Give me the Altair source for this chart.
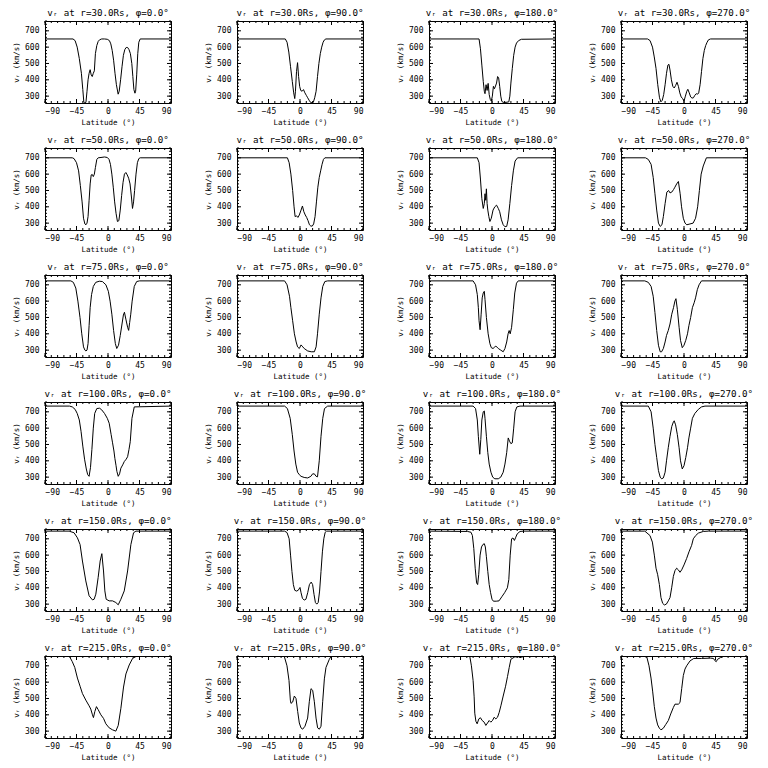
import altair as alt
import pandas as pd

# ---------------- data ----------------
lat_r30_p0 = [-90, -50, -47, -44, -41, -38, -36, -34.5, -33, -31.5, -30, -28.5, -27, -25.5, -24, -22.5, -21, -19.5, -18, -16, -14, -12, -9, -5, -1, 2, 4, 6, 8, 10, 12, 14.5, 16, 18, 20, 22, 24, 26, 28, 30, 32, 34, 35.5, 37, 38.5, 39.5, 41, 42.5, 44, 46, 90]
v_r30_p0 = [650, 650, 640, 600, 530, 440, 340, 262, 258, 262, 330, 400, 440, 462, 430, 420, 440, 455, 560, 610, 635, 645, 650, 650, 648, 640, 620, 580, 520, 440, 370, 312, 330, 400, 480, 550, 585, 598, 598, 585, 560, 500, 420, 340, 318, 330, 430, 560, 630, 650, 650]

lat_r30_p90 = [-90, -21, -18.5, -16, -13.5, -11, -9, -7.5, -6.5, -5, -3.5, -2, -0.5, 1, 3, 5, 7, 9, 11, 13, 15, 17, 19, 21, 23, 25, 27, 29, 31, 33, 35, 37, 90]
v_r30_p90 = [650, 650, 630, 570, 480, 390, 320, 285, 330, 450, 505, 420, 360, 335, 330, 340, 320, 305, 290, 275, 262, 260, 262, 290, 330, 420, 500, 560, 600, 630, 645, 650, 650]

lat_r30_p180 = [-90, -18.5, -16.5, -14.5, -12.5, -11, -10, -8.5, -7, -5.5, -4, -2.5, -1, 0.5, 2, 3.5, 5, 6.5, 8, 9.5, 11, 12.5, 14, 16, 20, 24, 25.5, 27, 29, 31, 33, 35, 38, 42, 90]
v_r30_p180 = [650, 650, 590, 490, 390, 330, 315, 370, 335, 378, 310, 280, 270, 300, 360, 345, 362, 380, 420, 412, 360, 300, 268, 262, 262, 265, 300, 380, 470, 550, 600, 625, 640, 648, 650]

lat_r30_p270 = [-90, -52, -48.5, -45, -42.5, -40, -37.5, -35, -33, -31, -29, -27, -25, -23, -21.5, -20, -18, -16, -14, -12, -10, -8, -6, -4, -2, 0, 2, 4, 5.5, 7.5, 9.5, 11.5, 13.5, 15.5, 17.5, 19.5, 21, 23, 25, 27, 29, 31, 33, 35, 38, 90]
v_r30_p270 = [650, 650, 640, 600, 540, 470, 370, 290, 265, 275, 310, 370, 440, 490, 495, 460, 400, 360, 350, 365, 385, 360, 320, 295, 285, 270, 300, 330, 342, 320, 295, 288, 290, 305, 315, 312, 320, 370, 450, 530, 580, 610, 630, 645, 650, 650]

lat_r50_p0 = [-90, -51, -48.5, -45, -42, -39.5, -37, -35, -33, -31.5, -30, -28.5, -27, -25.5, -24, -22.5, -21, -19.5, -18, -16, -14, -10, -5, -1, 1.5, 3.5, 5.5, 7.5, 9.5, 11.5, 13.5, 15.5, 17.5, 19.5, 21.5, 23.5, 25.5, 27.5, 29.5, 31.5, 33.5, 35, 36.5, 38, 40, 42, 44, 46, 90]
v_r50_p0 = [700, 700, 695, 670, 620, 530, 430, 330, 295, 290, 300, 340, 440, 540, 595, 598, 585, 600, 640, 690, 700, 702, 705, 702, 690, 660, 600, 520, 430, 360, 310, 315, 380, 470, 550, 600, 610, 595, 575, 540, 460, 390, 430, 500, 600, 670, 695, 700, 700]

lat_r50_p90 = [-90, -18, -15.5, -13, -10.5, -8.5, -7, -5, -3, -1, 1.5, 3.5, 5.5, 7.5, 9.5, 11.5, 13.5, 15.5, 17.5, 19.5, 21.5, 23.5, 25.5, 27.5, 29.5, 31.5, 33.5, 35.5, 90]
v_r50_p90 = [700, 700, 670, 600, 500, 400, 340, 345, 335, 350, 380, 405, 370, 350, 335, 315, 290, 282, 282, 295, 340, 430, 520, 580, 620, 660, 690, 700, 700]

lat_r50_p180 = [-90, -21, -18.5, -16.5, -14.5, -12.5, -11, -10, -9, -8, -7, -6, -4.5, -3, -1, 1.5, 4, 6.5, 9, 11, 13.5, 16, 18.5, 21, 23, 25.5, 28, 30.5, 33, 36.5, 90]
v_r50_p180 = [700, 700, 670, 570, 450, 390, 420, 480, 440, 510, 420, 380, 340, 310, 330, 380, 400, 410, 390, 370, 320, 290, 278, 280, 320, 420, 530, 620, 680, 700, 700]

lat_r50_p270 = [-90, -55, -51, -47, -44, -41.5, -39, -36.5, -34, -31.5, -29.5, -27, -24.5, -22, -20, -17.5, -15, -13, -10.5, -8, -5.5, -3.5, -1, 1.5, 4, 8.5, 13, 16.5, 19.5, 22, 24.5, 27.5, 32, 90]
v_r50_p270 = [700, 700, 690, 660, 580, 480, 380, 300, 280, 290, 340, 420, 490, 500, 485, 490, 505, 520, 540, 555, 480, 400, 330, 300, 290, 295, 300, 330, 400, 500, 600, 650, 700, 700]

lat_r75_p0 = [-90, -53, -49.5, -46, -43, -40, -37.5, -35, -33, -31.5, -30, -28.5, -27, -25.5, -23.5, -21, -17.5, -12.5, -8, -3, 0.5, 3, 5.5, 8, 10.5, 12.5, 15, 17.5, 20, 22, 23.5, 25.5, 28, 29.5, 31, 32.5, 34.5, 37.5, 41, 45, 90]
v_r75_p0 = [724, 724, 715, 680, 600, 500, 400, 320, 300, 295, 300, 340, 450, 560, 640, 690, 715, 722, 720, 700, 660, 600, 520, 420, 340, 310, 330, 390, 460, 515, 532, 490, 440, 421, 470, 520, 600, 690, 720, 724, 724]

lat_r75_p90 = [-90, -22, -18.5, -15, -13, -10.5, -8, -5.5, -3.5, -1, 1.5, 4, 6, 11, 16, 20.5, 23, 25, 27.5, 30, 32.5, 35.5, 39.5, 90]
v_r75_p90 = [724, 724, 700, 630, 560, 480, 400, 350, 320, 310, 332, 320, 310, 295, 290, 290, 320, 400, 520, 620, 690, 720, 724, 724]

lat_r75_p180 = [-90, -27, -23.5, -21, -19.5, -18.5, -17, -15.5, -14, -12.5, -11, -10, -8, -5.5, -3, -1, 1.5, 4, 5.5, 9, 12.5, 16, 18.5, 21, 23, 24.5, 26, 28, 30.5, 32.5, 35, 37.5, 90]
v_r75_p180 = [724, 724, 700, 640, 560, 480, 425, 520, 620, 650, 660, 610, 500, 400, 340, 315, 310, 320, 325, 310, 300, 290, 310, 350, 400, 420, 400, 440, 550, 650, 710, 724, 724]

lat_r75_p270 = [-90, -56, -51, -47, -44, -41.5, -39, -36.5, -34, -32, -29.5, -27, -25, -22.5, -20, -17.5, -15, -13, -11.5, -9.5, -7, -5, -2.5, 0, 2.5, 5, 7, 9.5, 12, 14.5, 16.5, 19, 21.5, 25, 90]
v_r75_p270 = [724, 724, 715, 690, 630, 530, 420, 330, 290, 290, 310, 350, 390, 420, 460, 520, 560, 600, 615, 550, 440, 360, 315, 330, 360, 400, 450, 500, 560, 590, 620, 670, 700, 724, 724]

lat_r100_p0 = [-90, -55, -51, -47, -44, -41, -38.5, -36, -33.5, -31, -29, -27, -25, -23, -21, -19, -16, -12, -9, -5, -1, 1.7, 4.5, 6.5, 8.5, 9.8, 11.5, 12.7, 14.6, 16.5, 18.4, 21, 23.2, 26, 28, 30, 31.8, 34.2, 37.5, 90]
v_r100_p0 = [735, 735, 730, 715, 690, 650, 580, 490, 410, 350, 315, 305, 360, 470, 600, 690, 720, 722, 712, 690, 660, 630, 560, 510, 460, 415, 370, 335, 305, 320, 355, 375, 395, 410, 425, 470, 517, 660, 730, 735]

lat_r100_p90 = [-90, -22, -18, -14, -11, -8.5, -6, -3.5, -1, 1.5, 6, 11, 15.5, 18, 20.5, 23, 25, 27.5, 30, 32.5, 35, 39.5, 90]
v_r100_p90 = [735, 735, 720, 660, 560, 460, 380, 330, 315, 305, 298, 295, 305, 320, 320, 305, 302, 400, 550, 660, 720, 735, 735]

lat_r100_p180 = [-90, -27, -23.5, -21, -19.5, -17.5, -16, -14.5, -12.5, -11, -10, -8, -6, -4, -1.5, 1, 4, 9, 12.5, 16, 18.5, 21, 23.2, 25, 27, 29, 31, 33, 35.5, 40, 90]
v_r100_p180 = [735, 735, 720, 650, 550, 440, 530, 650, 700, 705, 660, 550, 450, 380, 330, 300, 290, 290, 300, 330, 380, 450, 540, 520, 505, 510, 600, 700, 730, 735, 735]

lat_r100_p270 = [-90, -51, -47, -44, -41.5, -39, -36.5, -34, -32, -29.5, -27, -25, -22.5, -20, -17.5, -15, -14, -12, -9.5, -7, -5, -2.5, 0, 2.5, 5, 7, 9.5, 12, 15.5, 20.5, 25, 30, 90]
v_r100_p270 = [735, 735, 700, 600, 500, 420, 340, 300, 290, 295, 330, 400, 480, 550, 610, 640, 645, 620, 560, 480, 400, 350, 370, 420, 480, 540, 600, 660, 690, 715, 730, 735, 735]

lat_r150_p0 = [-90, -55.6, -48.5, -43.7, -39.9, -36.5, -31.7, -27, -22.2, -19.8, -17.4, -14.1, -11.2, -8.8, -6.4, -4.5, -2.6, 1.7, 6.5, 11.2, 14.6, 18.4, 23.2, 28, 32.7, 36.5, 39.9, 90]
v_r150_p0 = [747, 747, 737, 706, 665, 564, 442, 351, 326, 330, 361, 462, 564, 609, 503, 381, 330, 320, 320, 310, 296, 330, 381, 503, 665, 737, 747, 747]

lat_r150_p90 = [-90, -22, -18.5, -15.5, -13.5, -11.5, -9.5, -7.5, -5, -2.5, 0, 1.5, 3.5, 6, 8.5, 11, 13.5, 16, 18, 20, 22, 24, 26, 28, 30, 32, 34, 36, 38, 90]
v_r150_p90 = [747, 747, 738, 700, 600, 500, 420, 385, 380, 385, 402, 370, 335, 325, 330, 370, 420, 435, 420, 360, 310, 300, 310, 380, 500, 620, 700, 740, 747, 747]

lat_r150_p180 = [-90, -35, -30, -28, -26, -24, -22, -20.5, -19, -17, -15, -13, -11, -9.5, -8, -6, -4, -2, 0, 2, 6, 10, 14, 18, 22, 24, 26, 28, 30, 32, 34, 36, 40, 45, 90]
v_r150_p180 = [747, 745, 740, 720, 640, 520, 430, 420, 480, 600, 650, 665, 670, 650, 590, 500, 420, 370, 330, 318, 318, 320, 345, 370, 400, 450, 600, 700, 705, 690, 710, 730, 745, 747, 747]

lat_r150_p270 = [-90, -56, -48.6, -45.2, -42.4, -40, -37.6, -35.2, -32.9, -30.5, -28.1, -25.2, -22.4, -20, -17.6, -15.2, -12.9, -10.5, -8.1, -5.7, -3.3, 0, 3.8, 7.1, 10.9, 13.3, 16.7, 20.5, 27.6, 34.8, 90]
v_r150_p270 = [747, 747, 720, 680, 600, 520, 480, 420, 340, 305, 295, 300, 320, 340, 400, 470, 505, 520, 510, 495, 510, 540, 580, 620, 660, 700, 720, 735, 745, 747, 747]

lat_r215_p0 = [-90, -55, -51, -47.5, -43.7, -39.9, -36.5, -31.7, -27, -24.6, -22.2, -20.8, -18.8, -16.5, -14.1, -10.2, -6.4, -3.1, 1.7, 6.5, 11.2, 14.6, 18.4, 22.2, 25.6, 30.3, 35.1, 40, 90]
v_r215_p0 = [757, 757, 725, 690, 625, 575, 530, 490, 455, 435, 400, 383, 420, 450, 432, 400, 378, 345, 320, 308, 300, 335, 440, 570, 650, 705, 745, 757, 757]

lat_r215_p90 = [-90, -22.4, -18.6, -15.7, -13.8, -12.9, -10.5, -8.1, -5.7, -3.3, -1, 1.4, 3.8, 7.1, 10.9, 13.3, 15.7, 18.1, 20.5, 22.9, 25.2, 27.6, 30, 32.4, 34.8, 37.1, 41.9, 44.3, 90]
v_r215_p90 = [757, 757, 700, 610, 490, 470, 478, 515, 500, 420, 350, 320, 312, 330, 380, 480, 560, 550, 480, 380, 320, 312, 330, 480, 620, 690, 740, 757, 757]

lat_r215_p180 = [-90, -31.7, -29.4, -27, -25.5, -24.6, -23, -21.2, -18.8, -16.5, -14, -11.2, -8.8, -6.4, -4, -1.7, 0.7, 3.1, 5.5, 7.9, 10.3, 12.7, 16, 19.4, 22.2, 24.6, 27, 32.7, 38, 40, 42, 45, 90]
v_r215_p180 = [757, 757, 700, 610, 510, 410, 360, 345, 375, 382, 365, 355, 335, 350, 365, 355, 365, 385, 375, 385, 415, 455, 515, 575, 635, 690, 740, 755, 755, 750, 752, 757, 757]

lat_r215_p270 = [-90, -53.3, -50, -47.1, -44.8, -42.4, -40, -37.6, -35.2, -32.9, -29.5, -26.2, -22.4, -19, -15.2, -12.9, -8.1, -5.7, -3.3, -1, 1.4, 3.8, 8.6, 14, 25, 38, 42, 44.5, 46, 48, 52, 56, 90]
v_r215_p270 = [757, 757, 700, 625, 545, 450, 380, 338, 318, 308, 318, 340, 365, 405, 445, 465, 465, 475, 560, 640, 680, 700, 730, 745, 745, 747, 745, 730, 725, 740, 750, 757, 757]

radii = ["30.0", "50.0", "75.0", "100.0", "150.0", "215.0"]
phis = ["0.0", "90.0", "180.0", "270.0"]

x_major = [-90, -45, 0, 45, 90]
x_minor = [-90, -81, -72, -63, -54, -45, -36, -27, -18, -9, 0, 9, 18, 27, 36, 45, 54, 63, 72, 81, 90]
y_major = [300, 400, 500, 600, 700]
y_minor = [260, 280, 300, 320, 340, 360, 380, 400, 420, 440, 460, 480, 500, 520, 540, 560, 580, 600, 620, 640, 660, 680, 700, 720, 740, 760]

series = [
    (lat_r30_p0, v_r30_p0), (lat_r30_p90, v_r30_p90), (lat_r30_p180, v_r30_p180), (lat_r30_p270, v_r30_p270),
    (lat_r50_p0, v_r50_p0), (lat_r50_p90, v_r50_p90), (lat_r50_p180, v_r50_p180), (lat_r50_p270, v_r50_p270),
    (lat_r75_p0, v_r75_p0), (lat_r75_p90, v_r75_p90), (lat_r75_p180, v_r75_p180), (lat_r75_p270, v_r75_p270),
    (lat_r100_p0, v_r100_p0), (lat_r100_p90, v_r100_p90), (lat_r100_p180, v_r100_p180), (lat_r100_p270, v_r100_p270),
    (lat_r150_p0, v_r150_p0), (lat_r150_p90, v_r150_p90), (lat_r150_p180, v_r150_p180), (lat_r150_p270, v_r150_p270),
    (lat_r215_p0, v_r215_p0), (lat_r215_p90, v_r215_p90), (lat_r215_p180, v_r215_p180), (lat_r215_p270, v_r215_p270),
]

# ---------------- layout / style ----------------
W, H = 126, 82
Y_DOMAIN = [258, 760]
FONT = "DejaVu Sans Mono"
MAJ, MIN = 4, 2

xs = alt.Scale(domain=[-90, 90], nice=False, zero=False)
ys = alt.Scale(domain=Y_DOMAIN, nice=False, zero=False)

x_axis = alt.Axis(values=x_major, format="d", title="Latitude (°)", ticks=False,
                  domain=False, grid=False, labelPadding=4, titlePadding=3)
y_axis = alt.Axis(values=y_major, format="d", title="vᵣ (km/s)", ticks=False,
                  domain=False, grid=False, labelPadding=6, titlePadding=4)

xmaj_df = pd.DataFrame({"lat": x_major})
xmin_df = pd.DataFrame({"lat": x_minor})
ymaj_df = pd.DataFrame({"v": y_major})
ymin_df = pd.DataFrame({"v": y_minor})


def tick_layers():
    layers = []
    for df, ln in ((ymaj_df, MAJ), (ymin_df, MIN)):
        layers.append(alt.Chart(df).mark_rule(color="black", strokeWidth=1).encode(
            y=alt.Y("v:Q", scale=ys, axis=y_axis), x=alt.value(0), x2=alt.value(ln)))
        layers.append(alt.Chart(df).mark_rule(color="black", strokeWidth=1).encode(
            y=alt.Y("v:Q", scale=ys, axis=y_axis), x=alt.value(W - ln), x2=alt.value(W)))
    for df, ln in ((xmaj_df, MAJ), (xmin_df, MIN)):
        layers.append(alt.Chart(df).mark_rule(color="black", strokeWidth=1).encode(
            x=alt.X("lat:Q", scale=xs, axis=x_axis), y=alt.value(H - ln), y2=alt.value(H)))
        layers.append(alt.Chart(df).mark_rule(color="black", strokeWidth=1).encode(
            x=alt.X("lat:Q", scale=xs, axis=x_axis), y=alt.value(0), y2=alt.value(ln)))
    return layers


panels = []
for i, (lat, v) in enumerate(series):
    r = radii[i // 4]
    phi = phis[i % 4]
    df = pd.DataFrame({"lat": lat, "v": v})
    line = alt.Chart(df).mark_line(color="black", strokeWidth=1, clip=True).encode(
        x=alt.X("lat:Q", scale=xs, axis=x_axis),
        y=alt.Y("v:Q", scale=ys, axis=y_axis),
    )
    panel = alt.layer(line, *tick_layers()).properties(
        width=W, height=H,
        title=alt.TitleParams(text=f"vᵣ at r={r}Rs, φ={phi}°"),
    )
    panels.append(panel)

chart = alt.concat(*panels, columns=4, spacing={"row": 45, "column": 66}, bounds="flush").properties(
    padding={"left": 4, "top": 0, "right": 0, "bottom": 0},
    background="white",
).configure_view(
    stroke="black", strokeWidth=1
).configure_axis(
    labelFont=FONT, labelFontSize=8, labelColor="black",
    titleFont=FONT, titleFontSize=7.5, titleColor="black", titleFontWeight="normal",
).configure_title(
    font=FONT, fontSize=9.2, fontWeight="normal", color="black", offset=2,
    anchor="middle", frame="group",
)

chart.save("out.html", embed_options={"renderer": "svg", "actions": False})
